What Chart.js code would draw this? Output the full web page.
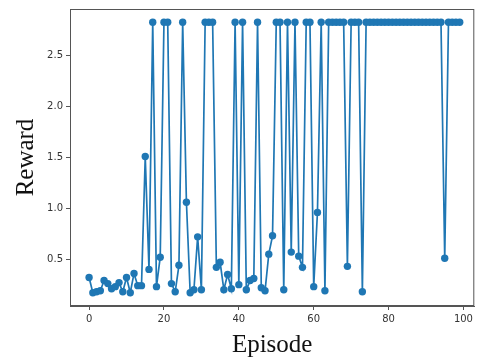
<!DOCTYPE html>
<html>
<head>
<meta charset="utf-8">
<script src="https://cdn.jsdelivr.net/npm/chart.js@4/dist/chart.umd.min.js"></script>
<style>
  html, body { margin: 0; padding: 0; background: #fff; }
  #wrap { width: 478px; height: 360px; }
</style>
</head>
<body>
<div id="wrap"><canvas id="rewardChart" width="478" height="360"></canvas></div>
<script>
// episodes 0..99 and the reward
const episodes = Array.from({ length: 100 }, (_, i) => i);
const rewards = [
  0.32, 0.17, 0.18, 0.19, 0.29, 0.26, 0.21, 0.23, 0.27, 0.18,
  0.32, 0.17, 0.36, 0.24, 0.24, 1.51, 0.40, 2.83, 0.23, 0.52,
  2.83, 2.83, 0.26, 0.18, 0.44, 2.83, 1.06, 0.17, 0.20, 0.72,
  0.20, 2.83, 2.83, 2.83, 0.42, 0.47, 0.20, 0.35, 0.21, 2.83,
  0.25, 2.83, 0.20, 0.29, 0.31, 2.83, 0.22, 0.19, 0.55, 0.73,
  2.83, 2.83, 0.20, 2.83, 0.57, 2.83, 0.53, 0.42, 2.83, 2.83,
  0.23, 0.96, 2.83, 0.19, 2.83, 2.83, 2.83, 2.83, 2.83, 0.43,
  2.83, 2.83, 2.83, 0.18, 2.83, 2.83, 2.83, 2.83, 2.83, 2.83,
  2.83, 2.83, 2.83, 2.83, 2.83, 2.83, 2.83, 2.83, 2.83, 2.83,
  2.83, 2.83, 2.83, 2.83, 2.83, 0.51, 2.83, 2.83, 2.83, 2.83
];
const xTicks = [0, 20, 40, 60, 80, 100];
const yTicks = [0.5, 1.0, 1.5, 2.0, 2.5];

const spineColor = '#555';

// box around the plot area, like matplotlib spines
const frame = {
  id: 'frame',
  afterDraw(chart) {
    const { ctx, chartArea: a } = chart;
    ctx.save();
    ctx.strokeStyle = spineColor;
    ctx.lineWidth = 1;
    ctx.strokeRect(a.left + 0.5, a.top + 0.5, a.right - a.left - 1, a.bottom - a.top - 1);
    ctx.restore();
  }
};

const ctx = document.getElementById('rewardChart').getContext('2d');
new Chart(ctx, {
  type: 'line',
  data: {
    datasets: [{
      data: episodes.map((e, i) => ({ x: e, y: rewards[i] })),
      borderColor: '#1f77b4',
      backgroundColor: '#1f77b4',
      borderWidth: 1.7,
      pointRadius: 3.7,
      pointHoverRadius: 3.7,
      pointBorderWidth: 0,
      tension: 0
    }]
  },
  options: {
    responsive: false,
    animation: false,
    layout: { padding: { top: 4, right: 2, left: 0, bottom: 0 } },
    plugins: { legend: { display: false }, tooltip: { enabled: false } },
    scales: {
      x: {
        type: 'linear',
        min: -5.1,
        max: 102.9,
        afterBuildTicks: s => { s.ticks = xTicks.map(v => ({ value: v })); },
        afterFit: s => { s.height = 54; },
        grid: { drawOnChartArea: false, tickLength: 4, tickColor: spineColor, color: spineColor },
        border: { color: spineColor },
        ticks: { color: '#333', font: { family: 'DejaVu Sans', size: 10 }, padding: 3, maxRotation: 0 },
        title: { display: true, text: 'Episode', color: '#111', font: { family: 'Liberation Serif', size: 25 }, padding: 0 }
      },
      y: {
        min: 0.04,
        max: 2.96,
        afterBuildTicks: s => { s.ticks = yTicks.map(v => ({ value: v })); },
        afterFit: s => { s.width = 70; },
        grid: { drawOnChartArea: false, tickLength: 4, tickColor: spineColor, color: spineColor },
        border: { color: spineColor },
        ticks: { color: '#333', font: { family: 'DejaVu Sans', size: 10 }, padding: 3, callback: v => v.toFixed(1) },
        title: { display: true, text: 'Reward', color: '#111', font: { family: 'Liberation Serif', size: 25 }, padding: { top: 11, bottom: 0 } }
      }
    }
  },
  plugins: [frame]
});
</script>
</body>
</html>
